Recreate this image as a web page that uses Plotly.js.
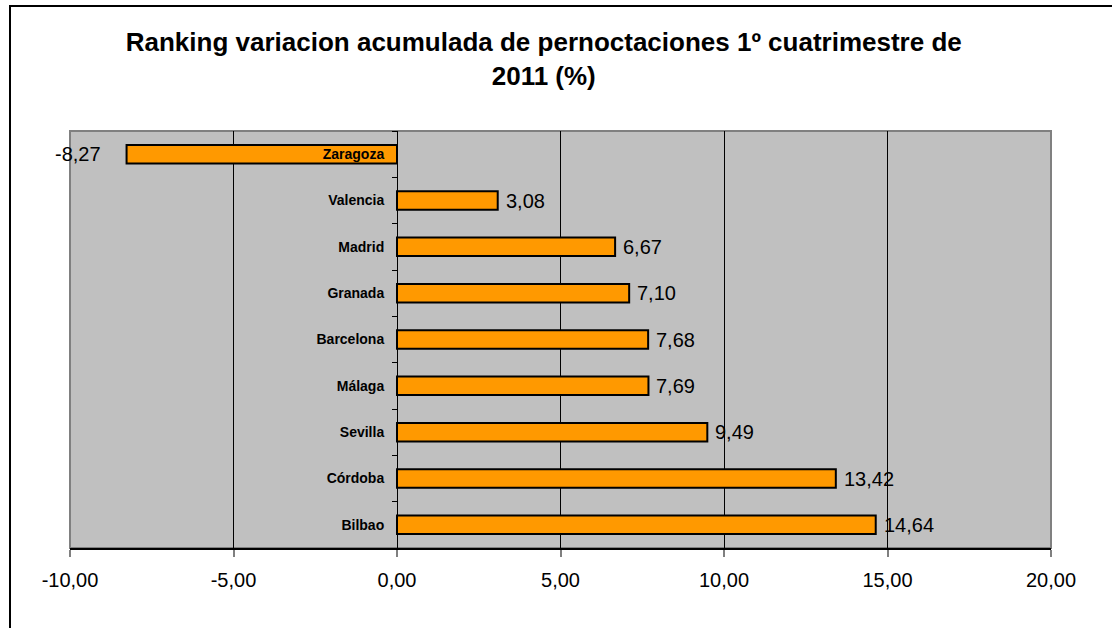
<!DOCTYPE html>
<html>
<head>
<meta charset="utf-8">
<script src="https://cdn.plot.ly/plotly-3.0.1.min.js"></script>
<style>
  html, body { margin: 0; padding: 0; background: #fff; }
  #frame { position: absolute; left: 9px; top: 5px; width: 1200px; height: 700px; border-left: 2px solid #000; border-top: 2px solid #000; pointer-events: none; z-index: 5; }
  #chart { width: 1112px; height: 628px; }
</style>
</head>
<body>
<div id="frame"></div>
<div id="chart"></div>
<script>
const cities = ["Zaragoza", "Valencia", "Madrid", "Granada", "Barcelona", "Málaga", "Sevilla", "Córdoba", "Bilbao"];
const values = [-8.27, 3.08, 6.67, 7.10, 7.68, 7.69, 9.49, 13.42, 14.64];
const xTicks = [-10, -5, 0, 5, 10, 15, 20];
const xTickText = ["-10,00", "-5,00", "0,00", "5,00", "10,00", "15,00", "20,00"];
const chartTitle = "Ranking variacion acumulada de pernoctaciones 1º cuatrimestre de<br>2011 (%)";

const FONT = 'Liberation Sans, Arial, sans-serif';
const labels = values.map(v => v.toFixed(2).replace('.', ','));

const trace = {
  type: 'bar',
  orientation: 'h',
  y: cities,
  x: values,
  width: 0.4,
  marker: { color: '#FF9900', line: { color: '#000000', width: 2 } },
  hoverinfo: 'skip'
};

const valueAnnotations = values.map((v, i) => ({
  x: v, y: cities[i], xref: 'x', yref: 'y',
  text: labels[i],
  showarrow: false,
  xanchor: v < 0 ? 'right' : 'left',
  yanchor: 'middle',
  xshift: v < 0 ? -24 : 6,
  font: { family: FONT, size: 20, color: '#000' }
}));

const layout = {
  width: 1112, height: 628,
  margin: { l: 70, r: 61, t: 131, b: 80 },
  paper_bgcolor: '#ffffff',
  plot_bgcolor: '#C0C0C0',
  showlegend: false,
  font: { family: FONT, color: '#000' },
  title: {
    text: chartTitle,
    font: { family: FONT, size: 26, weight: 'bold', color: '#000' },
    x: 0.489, xanchor: 'center',
    y: 0.918, yanchor: 'top'
  },
  xaxis: {
    range: [-10, 20],
    tickvals: xTicks,
    ticktext: xTickText,
    showgrid: true, gridcolor: '#000', gridwidth: 1,
    zeroline: true, zerolinecolor: '#000', zerolinewidth: 1,
    showline: true, linecolor: '#000', linewidth: 2,
    ticks: 'outside', ticklen: 7, tickcolor: '#808080', tickwidth: 2,
    ticklabelstandoff: 6,
    tickfont: { size: 20, color: '#000' },
    fixedrange: true
  },
  yaxis: {
    type: 'category',
    autorange: 'reversed',
    anchor: 'free',
    position: 1/3,
    showgrid: false,
    zeroline: false,
    showline: true, linecolor: '#000', linewidth: 1,
    ticks: 'outside', ticklen: 5, tickcolor: '#000', tickwidth: 1,
    tickson: 'boundaries',
    ticklabelstandoff: 10,
    tickfont: { size: 14, weight: 'bold', color: '#000' },
    fixedrange: true
  },
  shapes: [
    { type: 'rect', xref: 'paper', yref: 'paper', x0: 0, x1: 1, y0: 0, y1: 1,
      line: { color: '#808080', width: 2 }, layer: 'below' }
  ],
  annotations: valueAnnotations,
  bargap: 0.6
};

Plotly.newPlot('chart', [trace], layout, { displayModeBar: false, staticPlot: true });
</script>
</body>
</html>
